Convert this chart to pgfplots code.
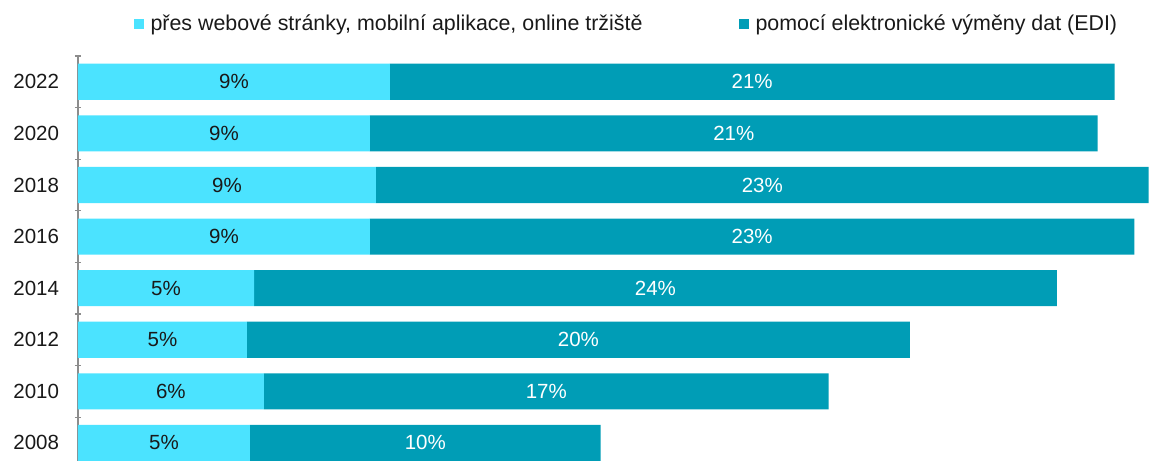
\documentclass[border=0pt]{standalone}
\usepackage{pgfplots}
\pgfplotsset{compat=1.18}
\usepackage{pgfplotstable}
\usepackage{fontspec}
\setmainfont{Liberation Sans}
\definecolor{lightc}{RGB}{75,227,255}
\definecolor{darkc}{RGB}{0,157,182}
\definecolor{axgray}{RGB}{140,140,140}
\newcommand{\fs}{\fontsize{20.5}{24}\selectfont}
\newcommand{\lfs}{\fontsize{21.4}{25}\selectfont}

% y: 0 = 2008 ... 7 = 2022; a = websites etc., b = EDI; la/lb = printed labels
\pgfplotstableread{
y a b la lb
0 5.09 10.38 5 10
1 5.50 16.72 6 17
2 5.00 19.62 5 20
3 5.21 23.76 5 24
4 8.64 22.63 9 23
5 8.82 22.87 9 23
6 8.64 21.54 9 21
7 9.23 21.45 9 21
}\shares

\begin{document}
\fs
\begin{tikzpicture}
\begin{axis}[
    xbar stacked,
    scale only axis,
    width=1071pt, height=405pt,
    xmin=0, xmax=31.7, ymin=-0.35, ymax=7.5,
    bar width=0.7,
    axis x line=none,
    axis y line=left,
    axis line style={-, draw=axgray, line width=1.2pt},
    ytick={0,...,7},
    yticklabels={2008,2010,2012,2014,2016,2018,2020,2022},
    major tick length=0pt,
    extra y ticks={0.5,1.5,...,7.5},
    extra y tick labels={},
    extra y tick style={major tick length=6pt, tick style={draw=axgray, line width=1.2pt}},
    ytick pos=left,
    yticklabel style={font=\fs, text=black!90, xshift=-12pt},
    legend style={at={(0.512,1)}, anchor=south, yshift=18pt, legend columns=2,
        draw=none, fill=none, font=\lfs, text=black!90,
        /tikz/every odd column/.append style={column sep=5pt},
        /tikz/every even column/.append style={column sep=94pt}},
    legend image code/.code={\fill[#1] (0pt,-5pt) rectangle (10pt,5pt);},
]
\coordinate (SW) at (rel axis cs:0,0);
\coordinate (NE) at (rel axis cs:1,1);
\addplot[fill=lightc, draw=none,
    nodes near coords={\pgfplotspointmeta\%}, point meta=explicit symbolic,
    every node near coord/.append style={anchor=center, text=black!90, font=\fs}]
    table[x=a, y=y, meta=la] {\shares};
\addplot[fill=darkc, draw=none,
    nodes near coords={\pgfplotspointmeta\%}, point meta=explicit symbolic,
    every node near coord/.append style={anchor=center, text=white, font=\fs}]
    table[x=b, y=y, meta=lb] {\shares};
\legend{{přes webové stránky, mobilní aplikace, online tržiště}, {pomocí elektronické výměny dat (EDI)}}
\end{axis}
\pgfresetboundingbox
\path ([xshift=-78pt]SW) rectangle ([yshift=56pt]NE);
\end{tikzpicture}
\end{document}
